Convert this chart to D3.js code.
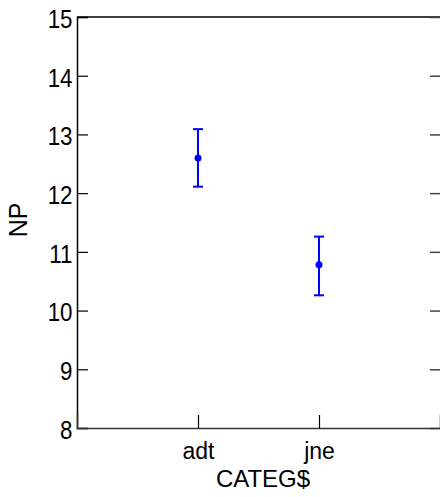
<!DOCTYPE html>
<html><head><meta charset="utf-8">
<script src="https://cdn.jsdelivr.net/npm/d3@7"></script>
<style>body{margin:0;background:#fff}svg{display:block}text{font-family:"Liberation Sans",Arial,sans-serif;fill:#000}</style>
</head><body><svg id="c" width="440" height="497"></svg>
<script>
const categories = ["adt", "jne"];
const means = [12.60, 10.78];
const upper = [13.09, 11.26];
const lower = [12.11, 10.26];
const yTicks = [8, 9, 10, 11, 12, 13, 14, 15];

const svg = d3.select("#c");
const L = 77, R = 440, T = 17, B = 428;
const x = d3.scaleLinear().domain([0, 3]).range([L, R]);
const y = d3.scaleLinear().domain([8, 15]).range([B, T]);
const data = categories.map((c, i) => ({c, i: i + 1, m: means[i], u: upper[i], l: lower[i]}));

svg.append("line").attr("x1", L).attr("x2", R).attr("y1", T).attr("y2", T).attr("stroke", "#000").attr("stroke-width", 1.5);

const ay = svg.append("g").attr("transform", `translate(${L},0)`)
  .call(d3.axisLeft(y).tickValues(yTicks).tickSize(-11).tickPadding(16).tickFormat(d3.format("d")));
ay.select(".domain").attr("stroke-width", 1.5);
ay.selectAll(".tick line").attr("stroke-width", 1.2);
ay.selectAll("text").style("font-size", "26px").attr("dy", "0.40em")
  .attr("x", -4.5).attr("transform", "scale(0.86,1)")
  .attr("x", -4.5 / 0.86);

const ar = svg.append("g").attr("transform", `translate(${R},0)`)
  .call(d3.axisRight(y).tickValues(yTicks).tickSize(-10).tickFormat(""));
ar.select(".domain").remove();
ar.selectAll(".tick line").attr("stroke", "#444").attr("stroke-width", 1.5);

const ax = svg.append("g").attr("transform", `translate(0,${B})`)
  .call(d3.axisBottom(x).tickValues(data.map(d => d.i)).tickSize(-13).tickPadding(15).tickFormat((d, i) => categories[i]));
ax.select(".domain").attr("stroke", "#333").attr("stroke-width", 1.5);
ax.selectAll(".tick line").attr("stroke-width", 1.2);
ax.selectAll("text").style("font-size", "23px");

svg.append("text").attr("x", 263).attr("y", 487).attr("text-anchor", "middle").style("font-size", "24px").text("CATEG$");
svg.append("text").attr("transform", "translate(27,220) rotate(-90)").attr("text-anchor", "middle").style("font-size", "25px").text("NP");

const g = svg.append("g").attr("stroke", "#0000ff").attr("stroke-width", 2);
g.selectAll(".v").data(data).join("line").attr("x1", d => x(d.i)).attr("x2", d => x(d.i)).attr("y1", d => y(d.u)).attr("y2", d => y(d.l));
g.selectAll(".cu").data(data).join("line").attr("x1", d => x(d.i) - 5).attr("x2", d => x(d.i) + 5).attr("y1", d => y(d.u)).attr("y2", d => y(d.u));
g.selectAll(".cl").data(data).join("line").attr("x1", d => x(d.i) - 5).attr("x2", d => x(d.i) + 5).attr("y1", d => y(d.l)).attr("y2", d => y(d.l));
svg.selectAll(".pt").data(data).join("circle").attr("cx", d => x(d.i)).attr("cy", d => y(d.m)).attr("r", 3.5).attr("fill", "#0000ff");
</script></body></html>
